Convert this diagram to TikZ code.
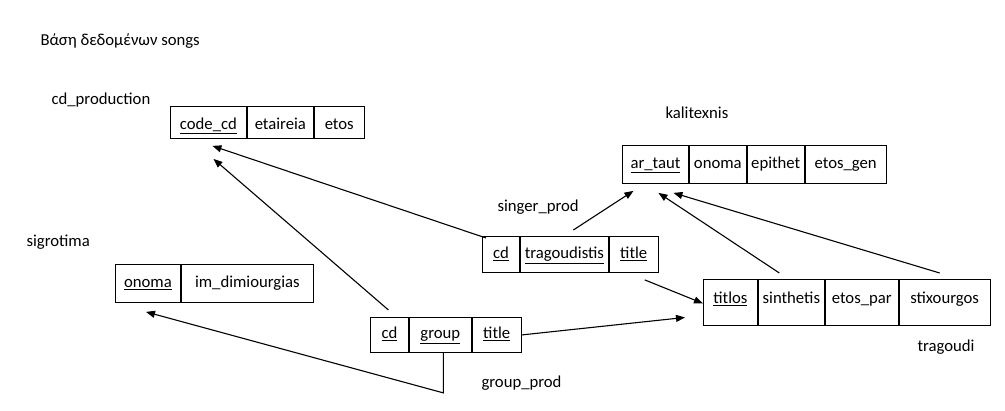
\documentclass[tikz,border=0pt]{standalone}
\usepackage{fontspec}
\setmainfont{Carlito}
\usetikzlibrary{arrows.meta, positioning, calc}

\begin{document}
\begin{tikzpicture}[
    x=1pt, y=-1pt, font=\fontsize{16.7}{20}\selectfont,
    cell/.style 2 args={draw, line width=0.9pt, inner sep=0pt, align=center,
                        text height=12pt, text depth=4pt,
                        minimum width=#1, minimum height=#2},
    low/.style={text height=14pt, text depth=0pt},
    high/.style={text height=10pt, text depth=8pt},
    ttl/.style={anchor=base west},
    a/.style={-{Triangle[length=9pt, width=7pt]}, line width=1.1pt},
  ]
    \useasboundingbox (0,0) rectangle (1005,411);
    \node[ttl] (db) at (37,46) {Βάση δεδομένων songs};

    % ---- cd_production ----
    \node[ttl] (cdprodname) at (48,105) {cd\_production};
    \node[cell={76pt}{32pt}, low, anchor=north west] (cp1) at (170,106) {\underline{code\_cd}};
    \node[cell={66pt}{32pt}, low, right=0pt of cp1] (cp2) {etaireia};
    \node[cell={50pt}{32pt}, low, right=0pt of cp2] (cp3) {etos};

    % ---- kalitexnis ----
    \node[ttl] (kalname) at (662,119) {kalitexnis};
    \node[cell={66pt}{38pt}, anchor=north west] (kt1) at (622,145) {\underline{ar\_taut}};
    \node[cell={57pt}{38pt}, right=0pt of kt1] (kt2) {onoma};
    \node[cell={57pt}{38pt}, right=0pt of kt2] (kt3) {epithet};
    \node[cell={81pt}{38pt}, right=0pt of kt3] (kt4) {etos\_gen};

    % ---- singer_prod ----
    \node[ttl] (singname) at (494,212) {singer\_prod};
    \node[cell={37pt}{36pt}, anchor=north west] (sp1) at (482,236) {\underline{cd}};
    \node[cell={88pt}{36pt}, right=0pt of sp1] (sp2) {\underline{tragoudistis}};
    \node[cell={49pt}{36pt}, right=0pt of sp2] (sp3) {\underline{title}};

    % ---- sigrotima ----
    \node[ttl] (signame) at (23,247) {sigrotima};
    \node[cell={65pt}{38pt}, anchor=north west] (sg1) at (115,264) {\underline{onoma}};
    \node[cell={132pt}{38pt}, right=0pt of sg1] (sg2) {im\_dimiourgias};

    % ---- group_prod ----
    \node[ttl] (grpname) at (478,388) {group\_prod};
    \node[cell={38pt}{35pt}, anchor=north west] (gp1) at (370,317) {\underline{cd}};
    \node[cell={62pt}{35pt}, right=0pt of gp1] (gp2) {\underline{group}};
    \node[cell={49pt}{35pt}, right=0pt of gp2] (gp3) {\underline{title}};

    % ---- tragoudi ----
    \node[ttl] (tragname) at (914,352) {tragoudi};
    \node[cell={54pt}{46pt}, high, anchor=north west] (tr1) at (703,279) {\underline{titlos}};
    \node[cell={66pt}{46pt}, high, right=0pt of tr1] (tr2) {sinthetis};
    \node[cell={73pt}{46pt}, high, right=0pt of tr2] (tr3) {etos\_par};
    \node[cell={91pt}{46pt}, high, right=0pt of tr3] (tr4) {stixourgos};

    % ---- foreign keys ----
    \draw[a] ($(sp1.north west)+(4,2)$) -- ($(cp1.south)+(4,7)$);
    \draw[a] ($(gp1.north)+(-1,-7)$) -- ($(cp1.south)+(5,20)$);
    \coordinate (gpbend) at ($(gp2.south)+(3,40)$);
    \draw[a] ($(gp2.south)+(3,0)$) -- (gpbend) -- ($(sg1.south)+(-2,9)$);
    \draw[a] (gp3.east) -- ($(tr1.west)+(-18,15)$);
    \draw[a] ($(sp3.south)+(11,7)$) -- ($(tr1.west)+(0,1)$);
    \draw[a] ($(sp2.north)+(9,-6)$) -- ($(kt1.south)+(-22,7)$);
    \draw[a] ($(tr2.north)+(-12,-6)$) -- ($(kt1.south)+(3,9)$);
    \draw[a] ($(tr4.north)+(-5,-6)$) -- ($(kt1.south)+(18,9)$);
  \end{tikzpicture}
\end{document}
